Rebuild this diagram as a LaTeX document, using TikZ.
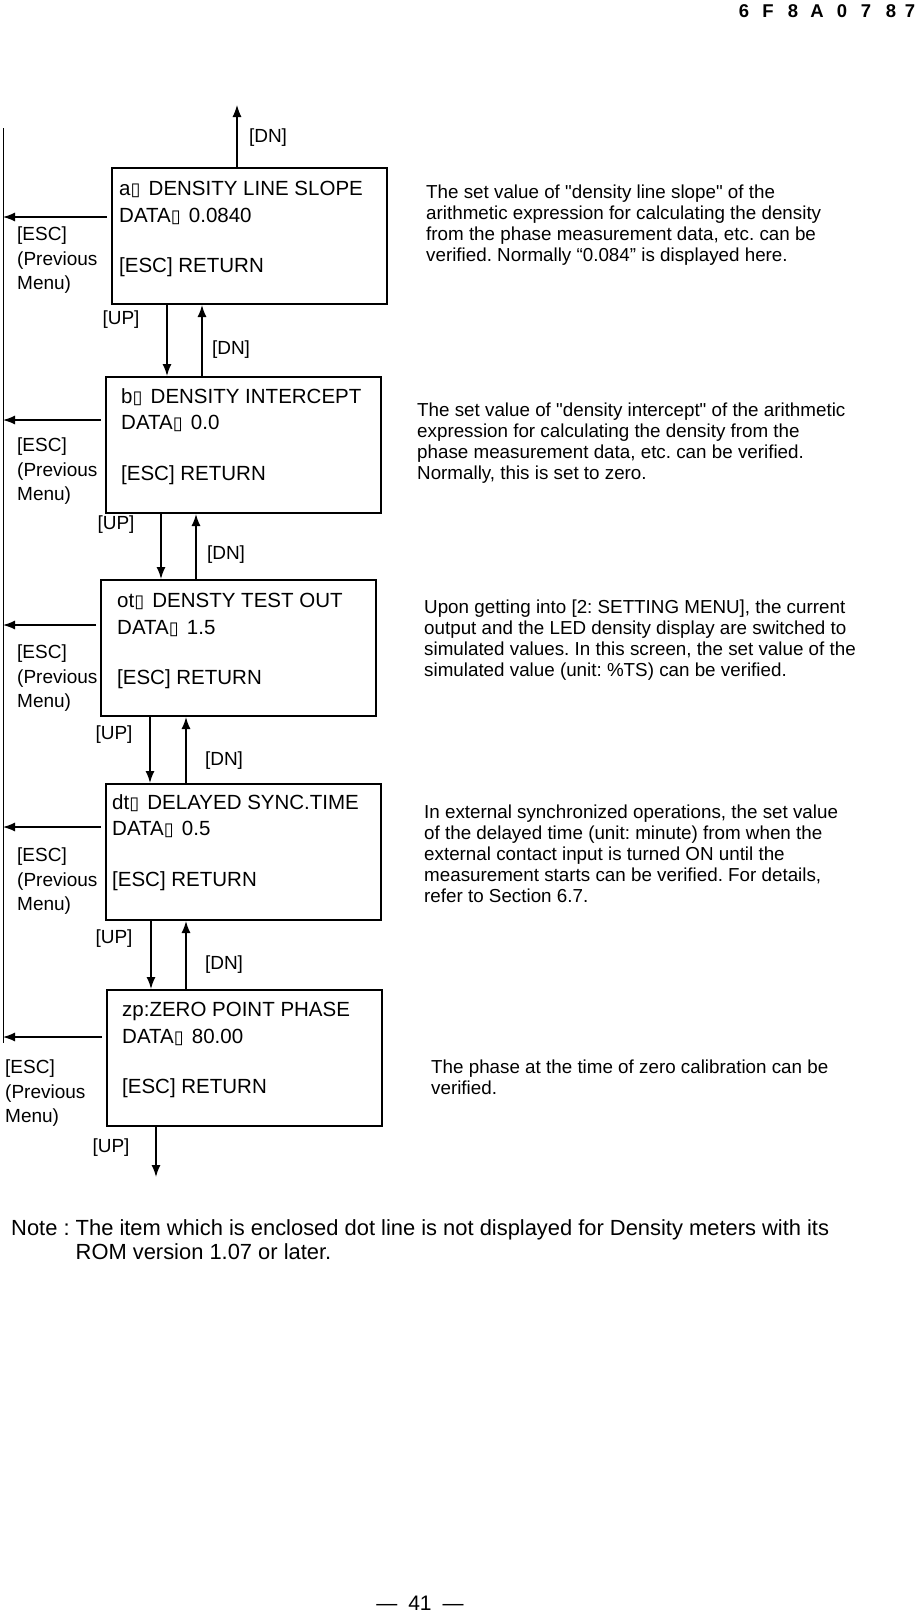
\documentclass[tikz,border=0pt]{standalone}
\usepackage{fontspec}
\setmainfont{Liberation Sans}[Ligatures=TeXOff]
\newfontfamily\symfont{DejaVu Sans}
\usetikzlibrary{arrows.meta}
\frenchspacing

\newcommand{\blankglyph}{{\symfont\fontsize{18}{18}\selectfont ▯}\kern2.5pt}

\begin{document}
\begin{tikzpicture}[x=1pt,y=-1pt,
	screen/.style={draw,line width=2pt,minimum width=275pt,minimum height=136pt,inner sep=0pt,anchor=north west},
	scrtext/.style={anchor=north west,inner sep=0pt,align=left,font=\fontsize{20.5}{26.5}\selectfont},
	remark/.style={anchor=north west,inner sep=0pt,align=left,font=\fontsize{18.8}{20.8}\selectfont},
	key/.style={inner sep=0pt,font=\fontsize{19}{24.5}\selectfont},
	esc/.style={key,anchor=north west,align=left},
	link/.style={line width=1.5pt,-{Latex[length=12pt,width=9pt]}},
	back/.style={line width=1.3pt,shorten <=4pt,-{Latex[length=12pt,width=9pt]}}]
	\useasboundingbox (0,0) rectangle (916,1615);

	% header
	\foreach \c/\x [count=\n] in {6/744,F/768,8/793,A/817,0/842,7/866,8/891,7/910}
		\node[inner sep=0pt,font=\fontsize{18.5}{18.5}\selectfont\bfseries] (h\n) at (\x,11.5) {\c};

	% screens
	\node[screen] (a) at (111,167) {};
	\node[screen] (b) at (105,376) {};
	\node[screen] (ot) at (100,579) {};
	\node[screen] (dt) at (105,783) {};
	\node[screen] (zp) at (106,989) {};

	\node[scrtext] (ta) at (119,181) {a\blankglyph\ DENSITY LINE SLOPE\\DATA\blankglyph\ 0.0840\\[24pt][ESC] RETURN};
	\node[scrtext] (tb) at (121,388) {b\blankglyph\ DENSITY INTERCEPT\\DATA\blankglyph\ 0.0\\[24pt][ESC] RETURN};
	\node[scrtext] (tot) at (117,593) {ot\blankglyph\ DENSTY TEST OUT\\DATA\blankglyph\ 1.5\\[24pt][ESC] RETURN};
	\node[scrtext] (tdt) at (112,794) {dt\blankglyph\ DELAYED SYNC.TIME\\DATA\blankglyph\ 0.5\\[24pt][ESC] RETURN};
	\node[scrtext] (tzp) at (122,1002) {zp:ZERO POINT PHASE\\DATA\blankglyph\ 80.00\\[24pt][ESC] RETURN};

	% up / down keys
	\coordinate (topend) at (237,105);
	\coordinate (zpend) at (156,1177);
	\draw[link,line width=1.1pt] (a.north -| 237,0) -- (topend);
	\foreach \u/\l/\xd/\xu in {a/b/167/202,b/ot/161/196,ot/dt/150/186,dt/zp/151/186}{
		\draw[link] (\u.south -| \xd,0) -- (\l.north -| \xd,0);
		\draw[link] (\l.north -| \xu,0) -- (\u.south -| \xu,0);
	}
	\draw[link] (zp.south -| 156,0) -- (zpend);

	\node[key] (dn0) at (268,138) {[DN]};
	\node[key] (up1) at (121,320) {[UP]};
	\node[key] (dn1) at (231,350) {[DN]};
	\node[key] (up2) at (116,525) {[UP]};
	\node[key] (dn2) at (226,555) {[DN]};
	\node[key] (up3) at (114,735) {[UP]};
	\node[key] (dn3) at (224,761) {[DN]};
	\node[key] (up4) at (114,939) {[UP]};
	\node[key] (dn4) at (224,965) {[DN]};
	\node[key] (up5) at (111,1148) {[UP]};

	% escape to previous menu
	\coordinate (railtop) at (3,128);
	\coordinate (railbot) at (3,1043);
	\draw[line width=1pt] (railtop) -- (railbot);
	\draw[back] (a.west |- 0,217) -- (railtop |- 0,217);
	\draw[back] (b.west |- 0,420) -- (railtop |- 0,420);
	\draw[back] (ot.west |- 0,625) -- (railtop |- 0,625);
	\draw[back] (dt.west |- 0,827) -- (railtop |- 0,827);
	\draw[back] (zp.west |- 0,1037) -- (railtop |- 0,1037);

	\node[esc] (esca) at (17,227) {[ESC]\\(Previous\\Menu)};
	\node[esc] (escb) at (17,438) {[ESC]\\(Previous\\Menu)};
	\node[esc] (escot) at (17,645) {[ESC]\\(Previous\\Menu)};
	\node[esc] (escdt) at (17,848) {[ESC]\\(Previous\\Menu)};
	\node[esc] (esczp) at (5,1060) {[ESC]\\(Previous\\Menu)};

	% explanations
	\node[remark] (ra) at (426,185) {The set value of "density line slope" of the\\arithmetic expression for calculating the density\\from the phase measurement data, etc. can be\\verified. Normally “0.084” is displayed here.};
	\node[remark] (rb) at (417,403) {The set value of "density intercept" of the arithmetic\\expression for calculating the density from the\\phase measurement data, etc. can be verified.\\Normally, this is set to zero.};
	\node[remark] (rot) at (424,600) {Upon getting into [2: SETTING MENU], the current\\output and the LED density display are switched to\\simulated values. In this screen, the set value of the\\simulated value (unit: \%TS) can be verified.};
	\node[remark] (rdt) at (424,805) {In external synchronized operations, the set value\\of the delayed time (unit: minute) from when the\\external contact input is turned ON until the\\measurement starts can be verified. For details,\\refer to Section 6.7.};
	\node[remark] (rzp) at (431,1060) {The phase at the time of zero calibration can be\\verified.};

	% note and page number
	\node[anchor=north west,inner sep=0pt,font=\fontsize{21.9}{24}\selectfont] (note) at (11,1218) {%
		\begin{tabular}{@{}l@{ }l@{}}
		Note :&The item which is enclosed dot line is not displayed for Density meters with its\\
		&ROM version 1.07 or later.
		\end{tabular}};
	\node[inner sep=0pt,font=\fontsize{21}{21}\selectfont] (page) at (420,1603) {—\hspace{11pt}41\hspace{11pt}—};
\end{tikzpicture}
\end{document}
